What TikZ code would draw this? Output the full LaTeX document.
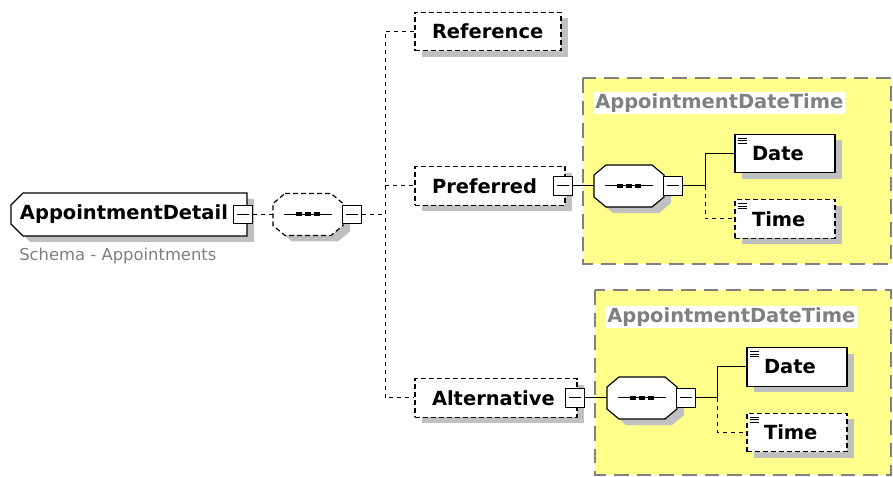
\documentclass[tikz,border=0pt]{standalone}
\usepackage{fontspec}
\setmainfont{DejaVu Sans}
\usepackage{tikz}
\usetikzlibrary{shapes.misc,shadows}
\definecolor{dtyellow}{RGB}{255,255,140}
\definecolor{shadowgray}{RGB}{192,192,192}
\definecolor{labelgray}{RGB}{128,128,128}
\newcommand{\elemfont}{\fontsize{14.6pt}{17pt}\selectfont\bfseries}
\tikzstyle{boxshadow} = [drop shadow={shadow xshift=5.25pt, shadow yshift=-4.5pt, fill=shadowgray, opacity=1}]
\tikzstyle{elem} = [rectangle, draw, fill=white, line width=0.9pt, font=\elemfont, align=left, inner xsep=12.75pt, inner ysep=0pt, minimum height=29pt, boxshadow]
\tikzstyle{optelem} = [elem, dash pattern=on 3.75pt off 2.25pt]
\tikzstyle{simple} = [path picture={
    \foreach \dy in {3,4.9,6.8}
      \draw[line width=0.75pt, solid] ([xshift=2.25pt,yshift=-\dy pt]path picture bounding box.north west) -- ++(6.5pt,0);}]
\tikzstyle{rootbox} = [chamfered rectangle, chamfered rectangle corners={north west,south west}, chamfered rectangle xsep=4.5pt, chamfered rectangle ysep=4.5pt, draw, fill=white, line width=0.9pt, font=\elemfont, align=left, text width=163.5pt, minimum width=177pt, minimum height=32.25pt, inner sep=0pt, boxshadow]
\tikzstyle{seqbox} = [rectangle, minimum width=52.5pt, minimum height=31.5pt, inner sep=0pt]
\tikzstyle{collapse} = [rectangle, draw, fill=white, line width=0.9pt, minimum size=14pt, inner sep=0pt, path picture={
    \draw[line width=0.75pt] ([xshift=2.5pt]path picture bounding box.west) -- ([xshift=-2.5pt]path picture bounding box.east);}]
\tikzstyle{optline} = [line width=0.75pt, dash pattern=on 3pt off 3pt]
\tikzstyle{reqline} = [line width=0.75pt]
\tikzstyle{dtgroup} = [draw=labelgray, fill=dtyellow, line width=1.1pt, dash pattern=on 11pt off 6pt]
\tikzstyle{grouplabel} = [fill=white, text=labelgray, font=\elemfont, inner sep=1.5pt, anchor=west]

\newcommand{\seqoutline}[2]{%
  \begin{scope}[shift={(#1.center)}, x=1pt, y=1pt]
    \fill[shadowgray, shift={(5.25,-4.5)}] (-17.25,15.75) -- (17.25,15.75) -- (26.25,8.25) -- (26.25,-8.25) -- (17.25,-15.75) -- (-17.25,-15.75) -- (-26.25,-8.25) -- (-26.25,8.25) -- cycle;
    \draw[fill=white, line width=0.9pt, #2] (-17.25,15.75) -- (17.25,15.75) -- (26.25,8.25) -- (26.25,-8.25) -- (17.25,-15.75) -- (-17.25,-15.75) -- (-26.25,-8.25) -- (-26.25,8.25) -- cycle;
    \draw[line width=0.75pt] (-18,0) -- (18,0);
    \foreach \dx in {-6.75,0,6.75}
      \fill[black] (\dx-1.9,-1.5) rectangle ++(3.8,3);
  \end{scope}}

\begin{document}
\begin{tikzpicture}[x=0.75pt,y=-0.75pt]
\useasboundingbox (0,0) rectangle (893,477);

\draw[dtgroup] (583,78) rectangle (891,264);
\draw[dtgroup] (595,290) rectangle (891,475);
\node[grouplabel] (lblA) at (593,103) {AppointmentDateTime};
\node[grouplabel] (lblB) at (605,317) {AppointmentDateTime};

\node[rootbox] (root) at (129,214.5) {AppointmentDetail};
\node[collapse] (rootminus) at (243,214.5) {};
\node[anchor=west, inner sep=0pt, text=labelgray, font=\fontsize{12.3pt}{14pt}\selectfont] (schema) at (19,256) {Schema - Appointments};

\node[seqbox] (seq) at (308,214.5) {};
\seqoutline{seq}{dash pattern=on 3.75pt off 2.25pt}
\node[collapse] (seqminus) at (352,214.5) {};
\coordinate (fork) at (385,214.5);

\node[optelem, text width=84pt] (ref) at (488,31.5) {Reference};
\node[optelem, text width=87pt] (pref) at (490,186) {Preferred};
\node[collapse] (prefminus) at (563,186) {};
\node[optelem, text width=96pt] (alt) at (496,398) {Alternative};
\node[collapse] (altminus) at (575,398) {};

\node[seqbox] (seqA) at (629,186) {};
\seqoutline{seqA}{solid}
\node[collapse] (seqAminus) at (673,186) {};
\coordinate (jA) at (705,186);
\node[elem, simple, text width=49.5pt] (dateA) at (785,153.5) {Date};
\node[optelem, simple, text width=49.5pt] (timeA) at (785,219) {Time};

\node[seqbox] (seqB) at (642,398) {};
\seqoutline{seqB}{solid}
\node[collapse] (seqBminus) at (686,398) {};
\coordinate (jB) at (717,398);
\node[elem, simple, text width=49.5pt] (dateB) at (797,367) {Date};
\node[optelem, simple, text width=49.5pt] (timeB) at (797,432.5) {Time};

\draw[optline] (rootminus) -- (seq);
\draw[optline] (seqminus) -- (fork);
\draw[optline] (ref) -| (fork) |- (alt);
\draw[optline] (fork |- pref) -- (pref);

\draw[reqline] (prefminus) -- (seqA);
\draw[reqline] (seqAminus) -- (jA);
\draw[reqline] (jA) |- (dateA);
\draw[optline] (jA) |- (timeA);

\draw[reqline] (altminus) -- (seqB);
\draw[reqline] (seqBminus) -- (jB);
\draw[reqline] (jB) |- (dateB);
\draw[optline] (jB) |- (timeB);
\end{tikzpicture}
\end{document}
